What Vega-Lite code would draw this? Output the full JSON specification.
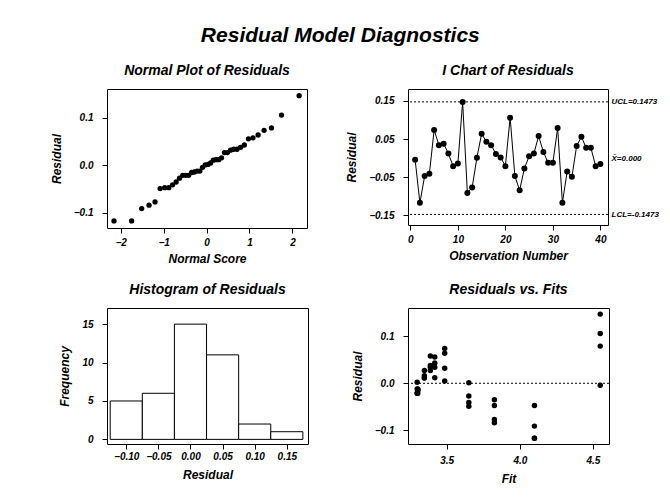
{
  "$schema": "https://vega.github.io/schema/vega-lite/v6.json",
  "background": "white",
  "padding": {"left": 49, "top": 24, "right": 5, "bottom": 5},
  "title": {
    "text": "Residual Model Diagnostics",
    "fontSize": 21,
    "font": "Liberation Sans",
    "fontStyle": "italic",
    "fontWeight": "bold",
    "color": "black",
    "anchor": "middle",
    "dx": -14,
    "offset": 18
  },
  "bounds": "flush",
  "columns": 2,
  "spacing": {"row": 80, "column": 100},
  "datasets": {
    "resid": [
      {"obs": 1, "fit": 4.55, "residual": -0.004, "nscore": -0.094},
      {"obs": 2, "fit": 4.10, "residual": -0.117, "nscore": -2.157},
      {"obs": 3, "fit": 3.826, "residual": -0.047, "nscore": -0.976},
      {"obs": 4, "fit": 3.651, "residual": -0.041, "nscore": -0.792},
      {"obs": 5, "fit": 3.486, "residual": 0.074, "nscore": 1.340},
      {"obs": 6, "fit": 3.418, "residual": 0.034, "nscore": 0.631},
      {"obs": 7, "fit": 3.388, "residual": 0.038, "nscore": 0.792},
      {"obs": 8, "fit": 3.347, "residual": 0.012, "nscore": 0.220},
      {"obs": 9, "fit": 3.298, "residual": -0.021, "nscore": -0.557},
      {"obs": 10, "fit": 3.302, "residual": -0.014, "nscore": -0.284},
      {"obs": 11, "fit": 4.55, "residual": 0.147, "nscore": 2.157},
      {"obs": 12, "fit": 4.10, "residual": -0.091, "nscore": -1.512},
      {"obs": 13, "fit": 3.826, "residual": -0.077, "nscore": -1.201},
      {"obs": 14, "fit": 3.651, "residual": 0.001, "nscore": -0.031},
      {"obs": 15, "fit": 3.486, "residual": 0.064, "nscore": 1.201},
      {"obs": 16, "fit": 3.418, "residual": 0.043, "nscore": 0.880},
      {"obs": 17, "fit": 3.388, "residual": 0.034, "nscore": 0.709},
      {"obs": 18, "fit": 3.347, "residual": 0.011, "nscore": 0.156},
      {"obs": 19, "fit": 3.298, "residual": 0.002, "nscore": 0.031},
      {"obs": 20, "fit": 3.302, "residual": -0.021, "nscore": -0.486},
      {"obs": 21, "fit": 4.55, "residual": 0.106, "nscore": 1.746},
      {"obs": 22, "fit": 4.10, "residual": -0.047, "nscore": -0.880},
      {"obs": 23, "fit": 3.826, "residual": -0.084, "nscore": -1.340},
      {"obs": 24, "fit": 3.651, "residual": -0.027, "nscore": -0.631},
      {"obs": 25, "fit": 3.486, "residual": 0.005, "nscore": 0.094},
      {"obs": 26, "fit": 3.418, "residual": 0.012, "nscore": 0.284},
      {"obs": 27, "fit": 3.388, "residual": 0.058, "nscore": 1.082},
      {"obs": 28, "fit": 3.347, "residual": 0.016, "nscore": 0.349},
      {"obs": 29, "fit": 3.298, "residual": -0.012, "nscore": -0.220},
      {"obs": 30, "fit": 3.302, "residual": -0.012, "nscore": -0.156},
      {"obs": 31, "fit": 4.55, "residual": 0.079, "nscore": 1.512},
      {"obs": 32, "fit": 4.10, "residual": -0.117, "nscore": -1.746},
      {"obs": 33, "fit": 3.826, "residual": -0.035, "nscore": -0.709},
      {"obs": 34, "fit": 3.651, "residual": -0.049, "nscore": -1.082},
      {"obs": 35, "fit": 3.486, "residual": 0.032, "nscore": 0.557},
      {"obs": 36, "fit": 3.418, "residual": 0.056, "nscore": 0.976},
      {"obs": 37, "fit": 3.388, "residual": 0.027, "nscore": 0.417},
      {"obs": 38, "fit": 3.347, "residual": 0.027, "nscore": 0.486},
      {"obs": 39, "fit": 3.298, "residual": -0.021, "nscore": -0.417},
      {"obs": 40, "fit": 3.302, "residual": -0.015, "nscore": -0.349}
    ],
    "hist": [
      {"lo": -0.125, "hi": -0.075, "count": 5},
      {"lo": -0.075, "hi": -0.025, "count": 6},
      {"lo": -0.025, "hi": 0.025, "count": 15},
      {"lo": 0.025, "hi": 0.075, "count": 11},
      {"lo": 0.075, "hi": 0.125, "count": 2},
      {"lo": 0.125, "hi": 0.175, "count": 1}
    ],
    "limits": [
      {"name": "UCL", "value": 0.1473},
      {"name": "LCL", "value": -0.1473}
    ],
    "zeroline": [
      {"value": 0}
    ]
  },
  "config": {
    "font": "Liberation Sans",
    "view": {"stroke": "black", "strokeWidth": 1},
    "axis": {
      "grid": false,
      "domain": false,
      "ticks": true,
      "tickColor": "black",
      "tickSize": 5,
      "labelFont": "Liberation Sans",
      "labelFontStyle": "italic",
      "labelFontWeight": "bold",
      "labelFontSize": 10,
      "labelColor": "black",
      "titleFont": "Liberation Sans",
      "titleFontStyle": "italic",
      "titleFontWeight": "bold",
      "titleFontSize": 12,
      "titleColor": "black"
    },
    "title": {
      "font": "Liberation Sans",
      "fontStyle": "italic",
      "fontWeight": "bold",
      "fontSize": 14,
      "color": "black",
      "offset": 11
    }
  },
  "concat": [
    {
      "title": "Normal Plot of Residuals",
      "width": 200,
      "height": 139,
      "data": {"name": "resid"},
      "mark": {"type": "circle", "color": "black", "size": 28, "opacity": 1},
      "encoding": {
        "x": {
          "field": "nscore",
          "type": "quantitative",
          "title": "Normal Score",
          "scale": {"domain": [-2.32, 2.34], "nice": false, "zero": false},
          "axis": {"values": [-2, -1, 0, 1, 2], "format": "d", "labelPadding": 4, "titlePadding": 6}
        },
        "y": {
          "field": "residual",
          "type": "quantitative",
          "title": "Residual",
          "scale": {"domain": [-0.132, 0.161], "nice": false, "zero": false},
          "axis": {"values": [-0.1, 0, 0.1], "format": ".1f", "labelPadding": 9, "titlePadding": 10}
        }
      }
    },
    {
      "title": "I Chart of Residuals",
      "width": 200,
      "height": 136,
      "resolve": {"axis": {"y": "independent"}},
      "layer": [
        {
          "data": {"name": "resid"},
          "mark": {"type": "line", "color": "black", "strokeWidth": 1},
          "encoding": {
            "x": {
              "field": "obs",
              "type": "quantitative",
              "title": "Observation Number",
              "scale": {"domain": [-0.5, 41.6], "nice": false, "zero": false},
              "axis": {"values": [0, 10, 20, 30, 40], "format": "d", "labelPadding": 4, "titlePadding": 6}
            },
            "y": {
              "field": "residual",
              "type": "quantitative",
              "title": "Residual",
              "scale": {"domain": [-0.175, 0.181], "nice": false, "zero": false},
              "axis": {"values": [-0.15, -0.05, 0.05, 0.15], "format": ".2f", "labelPadding": 9, "titlePadding": 10}
            }
          }
        },
        {
          "data": {"name": "resid"},
          "mark": {"type": "circle", "color": "black", "size": 36, "opacity": 1},
          "encoding": {
            "x": {"field": "obs", "type": "quantitative"},
            "y": {"field": "residual", "type": "quantitative", "axis": null}
          }
        },
        {
          "data": {"name": "limits"},
          "mark": {"type": "rule", "color": "black", "strokeWidth": 1, "strokeDash": [2, 2]},
          "encoding": {
            "y": {
              "field": "value",
              "type": "quantitative",
              "scale": {"domain": [-0.175, 0.181], "nice": false, "zero": false},
              "axis": {
                "orient": "right",
                "title": null,
                "ticks": false,
                "values": [0.1473, 0, -0.1473],
                "labelExpr": "datum.value > 0.1 ? 'UCL=0.1473' : (datum.value < -0.1 ? 'LCL=-0.1473' : 'X̄=0.000')",
                "labelFontSize": 8,
                "labelPadding": 3
              }
            }
          }
        }
      ]
    },
    {
      "title": "Histogram of Residuals",
      "width": 201,
      "height": 136,
      "data": {"name": "hist"},
      "mark": {"type": "rect", "fill": "white", "stroke": "black", "strokeWidth": 1},
      "encoding": {
        "x": {
          "field": "lo",
          "type": "quantitative",
          "title": "Residual",
          "scale": {"domain": [-0.130, 0.183], "nice": false, "zero": false},
          "axis": {"values": [-0.10, -0.05, 0, 0.05, 0.10, 0.15], "format": ".2f", "labelPadding": 2, "titlePadding": 8}
        },
        "x2": {"field": "hi"},
        "y": {
          "field": "count",
          "type": "quantitative",
          "title": "Frequency",
          "scale": {"domain": [-0.6, 17.1], "nice": false, "zero": false},
          "axis": {"values": [0, 5, 10, 15], "format": "d", "labelPadding": 9, "titlePadding": 10}
        },
        "y2": {"datum": 0}
      }
    },
    {
      "title": "Residuals vs. Fits",
      "width": 201,
      "height": 136,
      "layer": [
        {
          "data": {"name": "zeroline"},
          "mark": {"type": "rule", "color": "black", "strokeWidth": 1, "strokeDash": [2, 2]},
          "encoding": {
            "y": {"field": "value", "type": "quantitative"}
          }
        },
        {
          "data": {"name": "resid"},
          "mark": {"type": "circle", "color": "black", "size": 30, "opacity": 1},
          "encoding": {
            "x": {
              "field": "fit",
              "type": "quantitative",
              "title": "Fit",
              "scale": {"domain": [3.235, 4.61], "nice": false, "zero": false},
              "axis": {"values": [3.5, 4.0, 4.5], "format": ".1f", "labelPadding": 6, "titlePadding": 8}
            },
            "y": {
              "field": "residual",
              "type": "quantitative",
              "title": "Residual",
              "scale": {"domain": [-0.129, 0.160], "nice": false, "zero": false},
              "axis": {"values": [-0.1, 0, 0.1], "format": ".1f", "labelPadding": 9, "titlePadding": 10}
            }
          }
        }
      ]
    }
  ]
}
